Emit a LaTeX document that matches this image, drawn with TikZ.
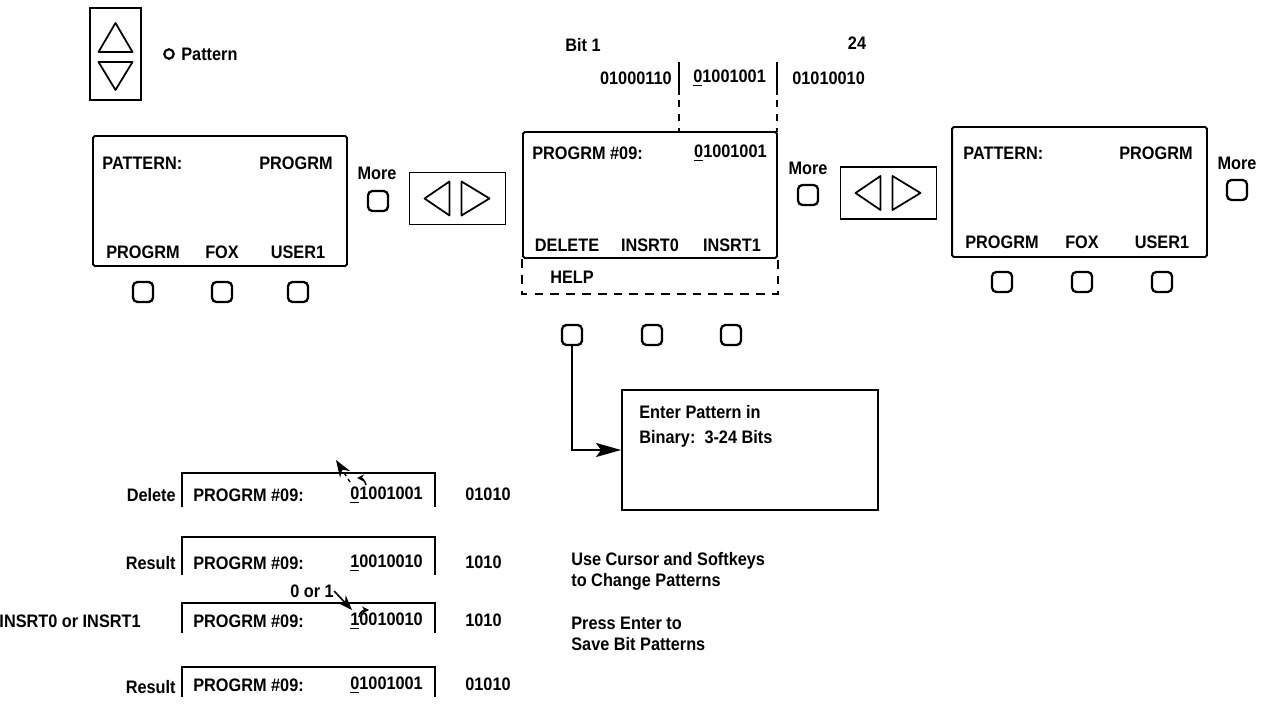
\documentclass[tikz,border=0pt]{standalone}
\usepackage{fontspec}
\setmainfont{Liberation Sans}[FakeStretch=0.9]
\usetikzlibrary{arrows.meta,positioning,calc}
\tikzset{
  >={Stealth[length=2.6mm]},
  lbl/.style={font=\fontsize{10.3}{12}\selectfont\bfseries,inner sep=0pt},
  lcd/.style={draw,line width=1.1pt,rounded corners=1pt,inner sep=0pt},
  softkey/.style={draw,line width=1.3pt,rounded corners=2.5pt,minimum size=4mm,inner sep=0pt},
  helpline/.style={line width=1pt,dash pattern=on 5pt off 4pt},
  frame/.style={line width=0.9pt},
  % keypad pictograms
  pics/lrpad/.style={code={
    \draw[line width=1.1pt] (-48,-26) rectangle (48,26);
    \draw[line width=1pt,line join=round] (-33,0) -- (-8,-17) -- (-8,17) -- cycle;
    \draw[line width=1pt,line join=round] (4,-17) -- (4,17) -- (32,0) -- cycle;
  }},
  pics/udpad/.style={code={
    \draw[line width=1.1pt] (-25.5,-46) rectangle (25.5,46);
    \draw[line width=1pt,line join=round] (0,-31) -- (-17,-2) -- (17,-2) -- cycle;
    \draw[line width=1pt,line join=round] (-17,8) -- (17,8) -- (0,36) -- cycle;
  }},
}
\begin{document}
\begin{tikzpicture}[x=0.02cm,y=-0.02cm]
  \useasboundingbox (0,0) rectangle (1264,705);
  % pattern selector
  \pic at (115.5,54) {udpad};
  \node[circle,draw,line width=1.2pt,minimum size=1.9mm,inner sep=0pt] (dot) at (169,54) {};
  \node[lbl,anchor=west] (pat) at (181,54) {Pattern};

  % left display
  \node[lcd,minimum width=5.08cm,minimum height=2.6cm] (lcdA) at (220,201) {};
  \node[lbl,anchor=west] at (102,163) {PATTERN:};
  \node[lbl,anchor=east] at (333,163) {PROGRM};
  \node[lbl] at (143,252) {PROGRM};
  \node[lbl] at (222,252) {FOX};
  \node[lbl] at (298,252) {USER1};
  \foreach \x [count=\i] in {143,222,298}
    \node[softkey] (keyA\i) at (\x,292) {};
  \node[lbl] (moreA) at (377,173) {More};
  \node[softkey] (mkeyA) at (378,201) {};
  \pic at (457.5,198.5) {lrpad};

  % bit string
  \node[lbl,anchor=west] (bitone) at (565,45) {Bit 1};
  \node[lbl] (bitlast) at (857,43) {24};
  \node[lbl,anchor=east] at (672,78) {01000110};
  \node[lbl,anchor=west] at (693,78) {\underline{0}1001001};
  \node[lbl,anchor=west] at (792,78) {01010010};
  \foreach \x in {679,777}{
    \draw[line width=0.9pt] (\x,62) -- (\x,95);
    \draw[line width=0.8pt,dash pattern=on 4pt off 4pt] (\x,100) -- (\x,132);
  }

  % middle display
  \node[lcd,minimum width=5.08cm,minimum height=2.52cm] (lcdB) at (650,195) {};
  \node[lbl,anchor=west] at (532,153) {PROGRM \#09:};
  \node[lbl,anchor=east] at (767,153) {\underline{0}1001001};
  \node[lbl] at (567,245) {DELETE};
  \node[lbl] at (650,245) {INSRT0};
  \node[lbl] at (732,245) {INSRT1};
  \draw[helpline] (lcdB.south west) -- ++(0,35) -| (lcdB.south east);
  \node[lbl,anchor=west] at (550,277) {HELP};
  \foreach \x [count=\i] in {572,652,731}
    \node[softkey] (keyB\i) at (\x,335) {};
  \node[lbl] (moreB) at (808,168) {More};
  \node[softkey] (mkeyB) at (808,195) {};
  \pic at (888.5,193) {lrpad};

  % right display
  \node[lcd,minimum width=5.1cm,minimum height=2.6cm] (lcdC) at (1079.5,192) {};
  \node[lbl,anchor=west] at (963,153) {PATTERN:};
  \node[lbl,anchor=east] at (1193,153) {PROGRM};
  \node[lbl] at (1002,242) {PROGRM};
  \node[lbl] at (1082,242) {FOX};
  \node[lbl] at (1162,242) {USER1};
  \foreach \x [count=\i] in {1002,1082,1162}
    \node[softkey] (keyC\i) at (\x,282) {};
  \node[lbl] (moreC) at (1237,163) {More};
  \node[softkey] (mkeyC) at (1237,190) {};

  % help box
  \node[lcd,rounded corners=0pt,minimum width=5.12cm,minimum height=2.4cm] (help) at (750,450) {};
  \node[lbl,anchor=north west,align=left] at (639,405) {Enter Pattern in\\[2pt]Binary:\ \ 3-24 Bits};
  \draw[line width=1.1pt,-{Stealth[length=5mm,width=2.8mm,inset=1mm]}] (keyB1.south) |- (help.west);

  % editing examples
  \foreach \t/\ty/\d/\r in {473/495/{\underline{0}1001001}/01010,
                            537/563/{\underline{1}0010010}/1010,
                            603/621/{\underline{1}0010010}/1010,
                            667/685/{\underline{0}1001001}/01010}{
    \draw[frame] (182,\ty+12) -- (182,\t) -- (435,\t) -- (435,\ty+12);
    \node[lbl,anchor=west] at (193,\ty) {PROGRM \#09:};
    \node[lbl,anchor=west] at (350,\ty) {\d};
    \node[lbl,anchor=west] at (465,\ty-1) {\r};
  }
  \node[lbl,anchor=east] (del) at (176,495) {Delete};
  \node[lbl,anchor=east] (resA) at (176,563) {Result};
  \node[lbl,anchor=east] (ins) at (141,621) {INSRT0 or INSRT1};
  \node[lbl,anchor=east] (resB) at (176,687) {Result};
  % cursor marks
  \draw[line width=0.8pt,dash pattern=on 2pt off 2pt,-{Stealth[length=3.4mm,width=2.4mm]}] (350,482) -- (336,460);
  \draw[line width=0.9pt,-{Stealth[length=1.4mm,width=1.4mm]}] (366,485) to[out=100,in=0] (357,478);
  \node[lbl] (zo) at (312,591) {0 or 1};
  \draw[line width=0.9pt,-{Stealth[length=3mm,width=2.2mm]}] (zo.east) -- (352,610);
  \draw[line width=0.9pt,-{Stealth[length=1.4mm,width=1.4mm]}] (359,617) to[out=90,in=180] (369,610);

  % notes
  \node[lbl,anchor=north west,align=left] at (571,552) {Use Cursor and Softkeys\\to Change Patterns};
  \node[lbl,anchor=north west,align=left] at (571,617) {Press Enter to\\Save Bit Patterns};
\end{tikzpicture}
\end{document}
